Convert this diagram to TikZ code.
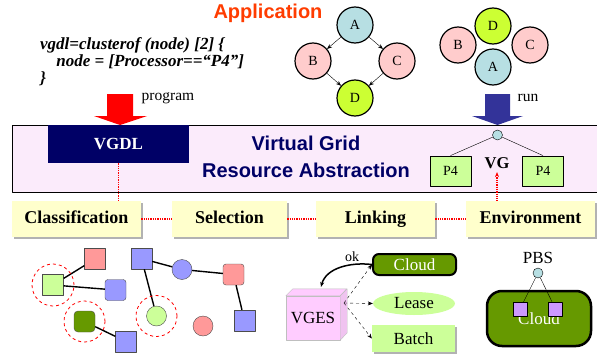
\documentclass[tikz,border=0pt]{standalone}
\usepackage{fontspec}
\setmainfont{Liberation Serif}
\newfontfamily\headfont{Liberation Sans}
\usetikzlibrary{arrows.meta,shadows,shapes.geometric}
\definecolor{navy}{RGB}{0,0,102}
\definecolor{runblue}{RGB}{51,51,153}
\definecolor{appred}{RGB}{255,60,0}
\definecolor{jobcyan}{RGB}{183,223,227}
\definecolor{jobpink}{RGB}{255,204,204}
\definecolor{joblime}{RGB}{204,255,51}
\definecolor{stagey}{RGB}{255,255,204}
\definecolor{respink}{RGB}{255,153,153}
\definecolor{resblue}{RGB}{153,153,255}
\definecolor{palegreen}{RGB}{204,255,153}
\definecolor{cloudgreen}{RGB}{102,153,0}
\definecolor{lilac}{RGB}{204,153,255}
\definecolor{vgespink}{RGB}{255,204,255}
\definecolor{bandpink}{RGB}{251,235,251}
\begin{document}
\begin{tikzpicture}[x=1pt,y=-1pt,>={Stealth[length=5pt,width=4pt]},line join=round,
	job/.style={circle,draw,line width=1.2pt,minimum size=36pt,inner sep=0pt,font=\fontsize{14}{14}\selectfont},
	stage/.style={fill=stagey,minimum height=36pt,inner sep=0pt,text height=12.5pt,text depth=4pt,font=\bfseries\fontsize{18}{18}\selectfont,
		drop shadow={shadow xshift=2pt,shadow yshift=-2pt,fill=black!30,opacity=1}},
	link/.style={red,densely dotted,line width=1.3pt},
	res/.style={draw=black!70,minimum size=21pt,inner sep=0pt},
	pick/.style={red,dashed,thick},
	tie/.style={line width=1.4pt},
	lbl/.style={font=\fontsize{17}{17}\selectfont},
	p4box/.style={draw,thick,fill=palegreen,minimum width=41pt,minimum height=30pt,font=\fontsize{14}{14}\selectfont},
	dot/.style={circle,draw,fill=jobcyan,minimum size=10pt,inner sep=0pt}]
	\useasboundingbox (0,0) rectangle (597,356);
	% abstraction band
	\fill[bandpink] (12,125) rectangle (597,192);
	\draw (597,125) -- (12,125) -- (12,192) -- (597,192);
	\node (vgra) [align=center,text=navy,font=\headfont\bfseries\fontsize{20}{27}\selectfont] at (306,157) {Virtual Grid\\Resource Abstraction};
	\node (vgdl) [fill=navy,text=white,minimum width=141pt,minimum height=38pt,font=\bfseries\fontsize{17}{17}\selectfont] at (118.5,144) {VGDL};
	% program / run arrows
	\fill[red] (107,94) -- (133,94) -- (133,116) -- (147,116) -- (120,125) -- (94,116) -- (107,116) -- cycle;
	\node (prog) [font=\fontsize{15.5}{15.5}\selectfont] at (168,98) {program};
	\fill[runblue] (485,94) -- (510,94) -- (510,116) -- (523,116) -- (497.5,125) -- (472,116) -- (485,116) -- cycle;
	\node (run) [font=\fontsize{15.5}{15.5}\selectfont] at (528,98) {run};
	% application
	\node (app) [text=appred,font=\headfont\bfseries\fontsize{20}{20}\selectfont] at (268,13) {Application};
	\node (code) [align=left,anchor=west,inner sep=0pt,font=\bfseries\itshape\fontsize{17}{17}\selectfont] at (40,62)
	{vgdl=clusterof (node) [2] \{\\\hspace*{0.95em}node = [Processor==“P4”]\\\}};
	\node (a) [job,fill=jobcyan] at (355,25) {A};
	\node (b) [job,fill=jobpink] at (313,61) {B};
	\node (c) [job,fill=jobpink] at (397,61) {C};
	\node (d) [job,fill=joblime] at (355,98) {D};
	\draw[->] (a) -- (b);
	\draw[->] (a) -- (c);
	\draw[->] (b) -- (d);
	\draw[->] (c) -- (d);
	\node (d2) [job,fill=joblime] at (493,26) {D};
	\node (b2) [job,fill=jobpink] at (458,45) {B};
	\node (c2) [job,fill=jobpink] at (530,45) {C};
	\node (a2) [job,fill=jobcyan] at (493,67) {A};
	% virtual grid
	\node (vgroot) [dot] at (497.5,135) {};
	\node (p4l) [p4box] at (450.5,171) {P4};
	\node (p4r) [p4box] at (543,171) {P4};
	\draw (vgroot) -- (p4l.north);
	\draw (vgroot) -- (p4r.north);
	\node (vg) [font=\bfseries\fontsize{16.5}{16.5}\selectfont] at (497,163) {VG};
	% stages
	\node (clas) [stage,minimum width=129pt] at (76.5,219) {Classification};
	\node (sel) [stage,minimum width=115pt] at (229.5,219) {Selection};
	\node (lnk) [stage,minimum width=119pt] at (375.5,219) {Linking};
	\node (env) [stage,minimum width=129pt] at (530.5,219) {Environment};
	\draw[link] (clas) -- (sel);
	\draw[link] (sel) -- (lnk);
	\draw[link] (lnk) -- (env);
	\draw[link] (vgdl.south) -- (vgdl.south |- clas.north);
	\draw[link,<-] (vg.south) -- (vg.south |- env.north);
	% resources
	\node (g1) [res,fill=palegreen] at (53,285) {};
	\node (g2) [res,fill=respink] at (95,259) {};
	\node (g3) [res,fill=resblue,rounded corners=3pt] at (115.5,290) {};
	\node (g4) [res,fill=cloudgreen,rounded corners=4pt] at (84.5,321.5) {};
	\node (g5) [res,fill=resblue] at (126,341.5) {};
	\node (g6) [res,fill=resblue] at (141.5,258.5) {};
	\node (g7) [res,circle,minimum size=20pt,fill=resblue] at (182,269.5) {};
	\node (g8) [res,fill=respink,rounded corners=3pt] at (233.5,274.5) {};
	\node (g9) [res,fill=resblue] at (244.5,320.5) {};
	\node (g10) [res,circle,minimum size=20pt,fill=palegreen] at (156.5,316) {};
	\node (g11) [res,circle,minimum size=20pt,fill=respink] at (203,326) {};
	\draw[tie] (g1) -- (g2);
	\draw[tie] (g1) -- (g3);
	\draw[tie] (g4) -- (g5);
	\draw[tie] (g6) -- (g7);
	\draw[tie] (g6) -- (g10);
	\draw[tie] (g7) -- (g8);
	\draw[tie] (g8) -- (g9);
	\draw[pick] (g1) circle (21pt);
	\draw[pick] (g4) circle (20.5pt);
	\draw[pick] (g10) circle (20.5pt);
	% vges
	\node (vges) [fill=vgespink,draw=black!25,minimum width=54pt,minimum height=44pt,lbl] at (313,318) {VGES};
	\filldraw[fill=vgespink,draw=black!25] (vges.north west) -- ++(7,-7) -- ++(54,0) -- (vges.north east) -- cycle;
	\filldraw[fill=vgespink!88!gray,draw=black!25] (vges.north east) -- ++(7,-7) -- ++(0,44) -- (vges.south east) -- cycle;
	\coordinate (fan) at (344,303);
	\coordinate (okend) at (321,287);
	\node (cloud) [fill=cloudgreen,draw,line width=2pt,rounded corners=6pt,minimum width=83pt,minimum height=21pt,text=white,lbl] at (414.5,264.5) {Cloud};
	\node (lease) [ellipse,fill=palegreen,minimum width=82pt,minimum height=23pt,inner sep=0pt,lbl] at (414,303.5) {Lease};
	\node (batch) [fill=palegreen,minimum width=83pt,minimum height=27pt,lbl,
		drop shadow={shadow xshift=2pt,shadow yshift=-2pt,fill=black!30,opacity=1}] at (413.5,338.5) {Batch};
	\draw[dashed,->] (fan) -- (cloud.west);
	\draw[dashed,->] (fan) -- (lease.west);
	\draw[dashed,->] (fan) -- (batch.west);
	\draw[line width=1.5pt,->] (cloud.west) .. controls (350,262) and (326,268) .. (okend)
		node[pos=0.3,above=-1pt,font=\fontsize{14}{14}\selectfont] {ok};
	% pbs
	\node (pbs) [lbl] at (538,258) {PBS};
	\node (pbsroot) [dot] at (538,273) {};
	\node (bigcloud) [fill=cloudgreen,draw,line width=2.5pt,rounded corners=15pt,minimum width=104pt,minimum height=55pt,text=white,lbl] at (539,318.5) {\raisebox{-3pt}{Cloud}};
	\node (pq1) [draw,fill=lilac,minimum size=14pt,inner sep=0pt] at (520,309) {};
	\node (pq2) [draw,fill=lilac,minimum size=14pt,inner sep=0pt] at (555.5,309) {};
	\draw (pbsroot) -- (pq1);
	\draw (pbsroot) -- (pq2);
\end{tikzpicture}
\end{document}
